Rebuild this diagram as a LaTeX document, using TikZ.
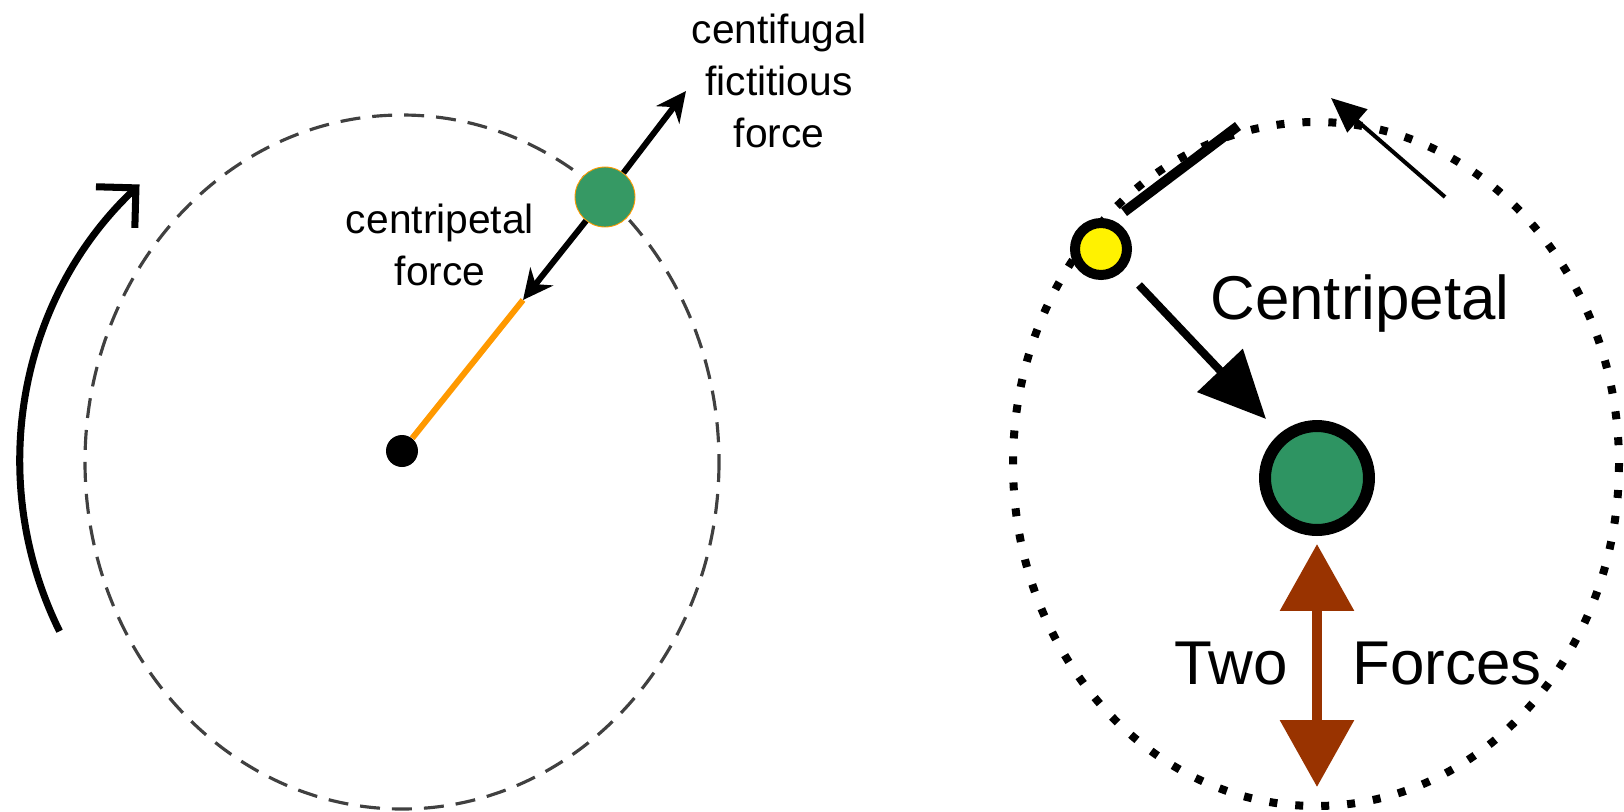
\documentclass[tikz,border=0pt]{standalone}
\usepackage{fontspec}
\setmainfont{Liberation Sans}
\usepackage{xcolor}
\usetikzlibrary{arrows.meta,positioning}
\definecolor{massgreen}{RGB}{54,153,100}
\definecolor{coregreen}{RGB}{46,148,98}
\definecolor{rodorange}{RGB}{255,153,0}
\definecolor{forcebrown}{RGB}{153,51,0}
\definecolor{rimgray}{RGB}{64,64,64}

\begin{document}
\begin{tikzpicture}[x=0.02cm,y=-0.02cm,>=Latex,font=\fontsize{23.2}{29.5}\selectfont]
\useasboundingbox (0,0) rectangle (1624,812);
% left: rotating frame
\draw[rimgray,line width=1.8pt,dash pattern=on 0.4cm off 0.24cm] (402,462) ellipse [x radius=317,y radius=347];
\draw[line width=4pt,-{Straight Barb[angle=90:0.8cm]}] (402,462) ++(153.7:382) arc[start angle=153.7,end angle=226.6,radius=382];
\node[circle,fill=black,inner sep=0pt,minimum size=0.64cm] (hub) at (402,451) {};
\node[circle,fill=massgreen,draw=rodorange,line width=0.5pt,inner sep=0pt,minimum size=1.2cm] (mass) at (605,197) {};
\coordinate (pin) at (523,300);
\coordinate (fly) at (686,91);
\draw[rodorange,line width=3.4pt] (hub) -- (pin);
\draw[line width=3.4pt,-{Stealth[length=0.6cm,width=0.58cm]}] (mass) -- (pin);
\draw[line width=3.4pt,-{Stealth[length=0.6cm,width=0.58cm]}] (mass) -- (fly);
\node[align=center,inner sep=0pt] (cflabel) at (779,81) {centifugal\\fictitious\\force};
\node[align=center,inner sep=0pt] (cplabel) at (440,245) {centripetal\\force};
% right: orbit
\draw[line width=0.16cm,dash pattern=on 0.16cm off 0.36cm] (1316,464) ellipse [x radius=303,y radius=342];
\node[circle,draw,line width=0.2cm,fill=yellow,inner sep=0pt,minimum size=1.04cm] (orbiter) at (1101,249) {};
\node[circle,draw,line width=0.24cm,fill=coregreen,inner sep=0pt,minimum size=2.08cm] (core) at (1317,478) {};
\coordinate (pull) at (1139,285);
\coordinate (hit) at (1266,419);
\coordinate (slip) at (1124,212);
\coordinate (drift) at (1238,126);
\coordinate (tail) at (1445,197);
\coordinate (tip) at (1331,98);
\coordinate (up) at (1317,544);
\coordinate (down) at (1317,787);
\draw[line width=0.2cm] (slip) -- (drift);
\draw[line width=0.16cm,-{Triangle[length=1.34cm,width=1.22cm]}] (pull) -- (hit);
\draw[line width=0.08cm,-{Triangle[length=0.7cm,width=0.6cm]}] (tail) -- (tip);
\draw[forcebrown,line width=0.2cm,{Triangle[length=1.34cm,width=1.44cm]}-{Triangle[length=1.34cm,width=1.44cm]}] (up) -- (down);
\node[anchor=base,font=\fontsize{35.2}{42}\selectfont] (cpword) at (1360,319) {Centripetal};
\node[anchor=base,font=\fontsize{35.2}{42}\selectfont] (twoword) at (1231,684) {Two};
\node[anchor=base,font=\fontsize{35.2}{42}\selectfont] (forceword) at (1447,684) {Forces};
\end{tikzpicture}
\end{document}
